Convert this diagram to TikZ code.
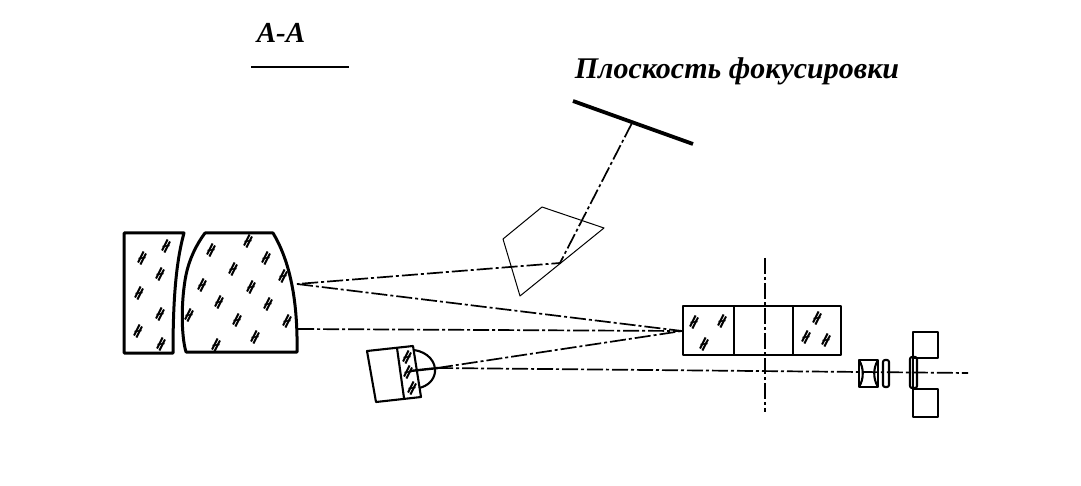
\documentclass[tikz,border=0pt]{standalone}
\usepackage{fontspec}
\setmainfont{Liberation Serif}
\usepackage{tikz}
\usetikzlibrary{positioning}

\begin{document}
\begin{tikzpicture}[
  x=1pt, y=-1pt,
  thickline/.style={line width=3pt, line join=round},
  thinline/.style={line width=2.1pt, line join=round},
  hairline/.style={line width=1pt, line join=round},
  axisline/.style={line width=1.7pt, dash pattern=on 16pt off 3pt on 3pt off 3pt},
  title/.style={inner sep=0pt, font=\bfseries\itshape},
  glassmark/.pic={
    \draw[line width=2pt] (-4,4.5) -- (1.6,-6.5);
    \draw[line width=2pt] (-1.6,6.5) -- (4,-4.5);
    \draw[line width=1.4pt] (-3.5,0.5) -- (3.5,-0.5);
  }
]
\useasboundingbox (0,0) rectangle (1081,486);

% labels
\node[title, font=\bfseries\itshape\fontsize{29}{29}\selectfont] (section) at (281,33) {А-А};
\coordinate (rulea) at (251,67);
\coordinate (ruleb) at (349,67);
\draw[line width=1.6pt] (rulea) -- (ruleb);
\node[title, font=\bfseries\itshape\fontsize{30}{30}\selectfont] (focus) at (737,71.5) {Плоскость фокусировки};

% focal plane
\coordinate (planea) at (573,101);
\coordinate (planeb) at (693,144);
\coordinate (planec) at (632,123);
\draw[line width=3.8pt] (planea) -- (planeb);

% mirrors
\draw[thickline] (124,233) -- (184,233) .. controls (176,262) and (173,300) .. (173,353) -- (124,353) -- cycle;
\draw[thickline] (205,233) -- (273,233) .. controls (288,258) and (298,295) .. (297,352) -- (186,352)
  .. controls (181,335) and (181,300) .. (186,275) .. controls (189,260) and (196,245) .. (205,233) -- cycle;

% prism
\draw[hairline] (542,207) -- (604,228) -- (520,296) -- (503,239) -- cycle;

% field lens block
\draw[thinline] (683,306) rectangle (841,355);
\draw[thinline] (734,306) -- (734,355);
\draw[thinline] (793,306) -- (793,355);

% source
\draw[thinline] (367,351) -- (413,346) -- (421,397) -- (376,402) -- cycle;
\draw[thinline] (397,348) -- (404,398);
\draw[thinline] (414,350) .. controls (428,352) and (436,362) .. (435,372) .. controls (434,380) and (428,386) .. (419,388);
\draw[line width=2.4pt] (410,371) -- (438,368);

% small lenses
\draw[thinline] (859,360) rectangle (878,387);
\draw[thinline] (859,360) .. controls (864,368) and (864,379) .. (859,387);
\draw[thinline] (878,360) .. controls (873,368) and (873,379) .. (878,387);
\draw[thinline, rounded corners=2pt] (883,360) rectangle (889,387);
\draw[thinline, rounded corners=2pt] (910,357) rectangle (917,388);
\draw[thinline] (913,357) -- (913,388);
\draw[thinline] (913,332) rectangle (938,358);
\draw[thinline] (913,389) rectangle (938,417);

% axes
\coordinate (mirrorpt) at (297,284);
\coordinate (mirrorlow) at (298,329);
\coordinate (prismpt) at (560,263);
\coordinate (blockpt) at (682,331);
\coordinate (sourcept) at (437,368);
\coordinate (axisend) at (968,373);
\coordinate (vtop) at (765,258);
\coordinate (vbot) at (765,412);
\draw[axisline] (planec) -- (prismpt) -- (mirrorpt);
\draw[axisline] (mirrorpt) -- (blockpt);
\draw[axisline] (mirrorlow) -- (blockpt);
\draw[axisline] (sourcept) -- (blockpt);
\draw[axisline] (sourcept) -- (axisend);
\draw[axisline] (vtop) -- (vbot);

% glass hatching
\foreach \x/\y in {166/246, 142/258, 160/274, 139/293, 160/314, 138/331, 161/344,
  211/250, 248/241, 266/258, 233/269, 283/276, 202/285, 251/287, 219/302, 268/304,
  189/315, 237/320, 287/321, 255/337, 216/345,
  694/322, 722/321, 704/344, 817/318, 806/337, 826/340,
  407/357, 408/372, 412/388}
  \pic at (\x,\y) {glassmark};
\end{tikzpicture}
\end{document}
